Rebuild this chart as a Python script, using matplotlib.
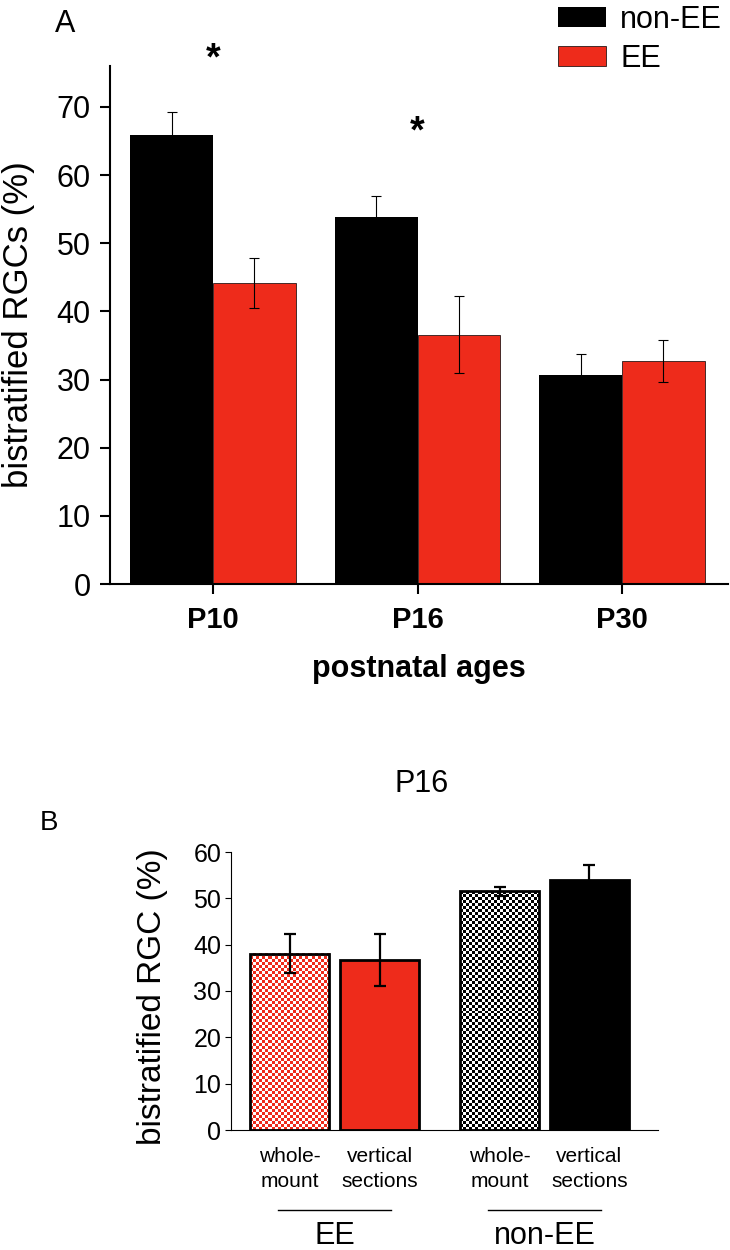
import numpy as np
import matplotlib
matplotlib.use('Agg')
import matplotlib.pyplot as plt
import matplotlib.transforms as mtransforms
from matplotlib.colors import ListedColormap

plt.rcParams['font.family'] = ['Liberation Sans', 'DejaVu Sans']

# =============================================================================
# Datos
# =============================================================================
# Panel A: % de RGCs biestratificadas por edad
ages = ['P10', 'P16', 'P30']
non_ee = [65.9, 53.8, 30.7]
non_ee_err = [3.4, 3.2, 3.0]
ee = [44.2, 36.6, 32.7]
ee_err = [3.7, 5.7, 3.1]
star_y = [77.0, 66.3]   # asteriscos en P10 y P16

# Panel B: P16, whole-mount vs secciones verticales
methods = ['whole-\nmount', 'vertical\nsections', 'whole-\nmount', 'vertical\nsections']
groups = ['EE', 'non-EE']
p16_vals = [38.0, 36.7, 51.5, 54.0]
p16_err = [4.2, 5.6, 1.0, 3.2]

red = '#EE2B1B'

fig = plt.figure(figsize=(7.3, 12.5), dpi=100)

# =============================================================================
# Panel A
# =============================================================================
axA = fig.add_axes([110/730, 1-584/1250, 618/730, 518/1250])
x = np.arange(len(ages))
w = 0.405
b1 = axA.bar(x - w/2, non_ee, w, color='black', label='non-EE')
b2 = axA.bar(x + w/2, ee, w, color=red, edgecolor='black', linewidth=0.5, label='EE')
axA.errorbar(x - w/2, non_ee, yerr=non_ee_err, fmt='none', ecolor='black',
             elinewidth=0.8, capsize=3.5, capthick=0.8)
axA.errorbar(x + w/2, ee, yerr=ee_err, fmt='none', ecolor='black',
             elinewidth=0.8, capsize=3.5, capthick=0.8)
for i, sy in enumerate(star_y):
    axA.text(x[i], sy, '*', ha='center', va='center', fontsize=27,
             fontweight='bold', clip_on=False)

axA.set_xlim(-0.504, 2.518)
axA.set_ylim(0, 76)
axA.set_yticks(np.arange(0, 80, 10))
axA.set_xticks(x)
axA.set_xticklabels(ages, fontweight='bold', fontsize=21)
axA.tick_params(axis='y', labelsize=22, length=7, width=1.5, pad=7)
axA.tick_params(axis='x', length=7, width=1.5, pad=9)
for s in ['top', 'right']:
    axA.spines[s].set_visible(False)
for s in ['left', 'bottom']:
    axA.spines[s].set_linewidth(1.5)
axA.set_ylabel('bistratified RGCs (%)', fontsize=25)
axA.yaxis.set_label_coords(-0.121, 0.5)
axA.set_xlabel('postnatal ages', fontsize=22, fontweight='bold', labelpad=14)

axA.legend(handles=[b1, b2], loc='upper left', bbox_to_anchor=(558/730, 1 - 5/1250),
           bbox_transform=fig.transFigure, frameon=False, fontsize=22,
           handlelength=1.57, handleheight=0.65, handletextpad=0.46,
           labelspacing=0.28, borderpad=0, borderaxespad=0)

fig.text(65/730, 1-24/1250, 'A', fontsize=22, ha='center', va='center')

# =============================================================================
# Panel B
# =============================================================================
axB = fig.add_axes([231/730, 1-1130/1250, 427/730, 278/1250])
pos = np.array([0, 1, 2.333, 3.328])
wb = 0.88
axB.set_xlim(-0.65, 4.09)
axB.set_ylim(0, 60)


def checker(ax, xc, h, color, cell=3):
    # relleno en damero recortado al rectángulo de la barra
    (x0, y0), (x1, y1) = ax.transData.transform([(xc - wb/2, 0), (xc + wb/2, h)])
    nx = int(round((x1 - x0) / cell))
    ny = int(round((y1 - y0) / cell))
    pat = np.indices((ny, nx)).sum(axis=0) % 2
    ax.imshow(pat, extent=(xc - wb/2, xc + wb/2, 0, h), origin='lower',
              cmap=ListedColormap(['white', color]), interpolation='nearest',
              aspect='auto', zorder=1)


# whole-mount EE (damero rojo)
checker(axB, pos[0], p16_vals[0], red)
axB.bar(pos[0], p16_vals[0], wb, color='none', edgecolor='black', linewidth=2, zorder=2)
# vertical EE
axB.bar(pos[1], p16_vals[1], wb, color=red, edgecolor='black', linewidth=2, zorder=2)
# whole-mount non-EE (damero negro)
checker(axB, pos[2], p16_vals[2], 'black')
axB.bar(pos[2], p16_vals[2], wb, color='none', edgecolor='black', linewidth=2, zorder=2)
# vertical non-EE
axB.bar(pos[3], p16_vals[3], wb, color='black', edgecolor='black', linewidth=2, zorder=2)
axB.errorbar(pos, p16_vals, yerr=p16_err, fmt='none', ecolor='black',
             elinewidth=1.6, capsize=4.5, capthick=1.6, zorder=3)

axB.set_xlim(-0.65, 4.09)
axB.set_ylim(0, 60)
axB.set_yticks(np.arange(0, 70, 10))
axB.set_xticks(pos)
axB.set_xticklabels(methods, fontsize=15, linespacing=1.4)
axB.tick_params(axis='y', labelsize=18, length=4, width=0.8, pad=3)
axB.tick_params(axis='x', length=0, pad=12)
for s in ['top', 'right']:
    axB.spines[s].set_visible(False)
for s in ['left', 'bottom']:
    axB.spines[s].set_linewidth(0.8)
axB.set_ylabel('bistratified RGC (%)', fontsize=24)
axB.yaxis.set_label_coords(-0.147, 0.48)
axB.set_title('P16', fontsize=22, x=(422-231)/427, pad=43)

# líneas de grupo y etiquetas EE / non-EE
trans = mtransforms.blended_transform_factory(axB.transData, axB.transAxes)
for k, g in enumerate(groups):
    c = (pos[2*k] + pos[2*k+1]) / 2
    axB.plot([c - 0.63, c + 0.63], [-0.288, -0.288], color='black', lw=1,
             transform=trans, clip_on=False)
    axB.text(c, -0.381, g, transform=trans, ha='center', va='center', fontsize=22)

fig.text(49/730, 1-823/1250, 'B', fontsize=20, ha='center', va='center')

fig.savefig('out.png', dpi=100)
